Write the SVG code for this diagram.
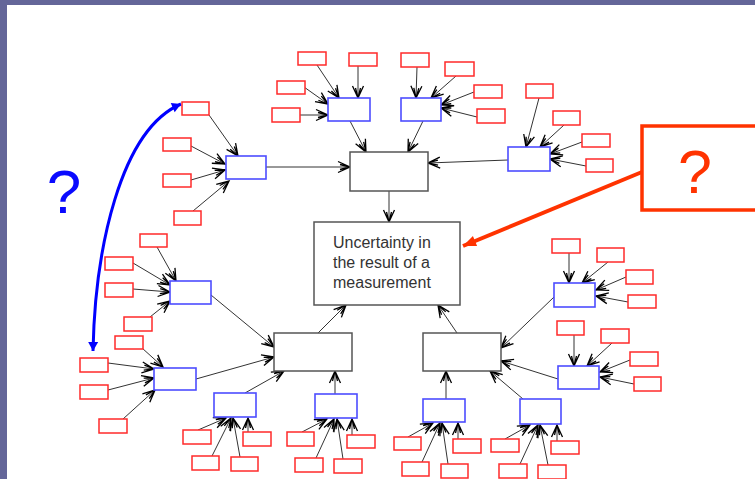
<svg xmlns="http://www.w3.org/2000/svg" width="755" height="479" viewBox="0 0 755 479">
<style>
.r{fill:#fff;stroke:#ff2a2a;stroke-width:1.5}
.b{fill:#fff;stroke:#4d4dff;stroke-width:1.6}
.g{fill:#fff;stroke:#555;stroke-width:1.5}
.c line{stroke:#333;stroke-width:1;marker-end:url(#a)}
.t{font-family:"Liberation Sans",Arial,sans-serif;font-size:16px;fill:#333}
</style>
<defs>
<marker id="a" viewBox="-14 -7 16 14" markerWidth="16" markerHeight="14" refX="0" refY="0" orient="auto" markerUnits="userSpaceOnUse">
<path d="M-12,-5.5 L0,0 L-12,5.5 M-10,-2.5 L0,0 L-10,2.5" fill="none" stroke="#000" stroke-width="1.3"/>
</marker>
<marker id="bl" viewBox="-10 -6 12 12" markerWidth="12" markerHeight="12" refX="0" refY="0" orient="auto-start-reverse" markerUnits="userSpaceOnUse">
<path d="M-9,-5 L0,0 L-9,5 Z" fill="#0000ff"/>
</marker>
<marker id="or" viewBox="-14 -7 16 14" markerWidth="16" markerHeight="14" refX="0" refY="0" orient="auto" markerUnits="userSpaceOnUse">
<path d="M-13,-5.5 L0,0 L-13,5.5 Z" fill="#ff3300"/>
</marker>
</defs>
<rect x="0" y="0" width="755" height="479" fill="#fff"/>
<rect x="0" y="0" width="755" height="5" fill="#646699"/>
<rect x="0" y="0" width="7" height="479" fill="#646699"/>

<g id="connectors" class="c">
<!-- A -->
<line x1="209" y1="115" x2="238" y2="156"/>
<line x1="191" y1="146" x2="225" y2="164"/>
<line x1="191" y1="180" x2="225" y2="170"/>
<line x1="193" y1="211" x2="229" y2="181"/>
<line x1="266" y1="167" x2="350" y2="167"/>
<!-- B -->
<line x1="317" y1="65" x2="339" y2="98"/>
<line x1="358" y1="66" x2="358" y2="98"/>
<line x1="304" y1="87" x2="328" y2="104"/>
<line x1="300" y1="115" x2="328" y2="115"/>
<line x1="350" y1="121" x2="366" y2="152"/>
<!-- C -->
<line x1="417" y1="67" x2="416" y2="98"/>
<line x1="456" y1="76" x2="431" y2="98"/>
<line x1="474" y1="92" x2="441" y2="105"/>
<line x1="477" y1="117" x2="441" y2="108"/>
<line x1="423" y1="121" x2="408" y2="152"/>
<!-- D -->
<line x1="539" y1="98" x2="526" y2="147"/>
<line x1="564" y1="125" x2="540" y2="147"/>
<line x1="582" y1="142" x2="550" y2="154"/>
<line x1="586" y1="166" x2="550" y2="159"/>
<line x1="508" y1="160" x2="428" y2="163"/>
<!-- top grey to uncertainty -->
<line x1="389" y1="191" x2="389" y2="222"/>
<!-- E -->
<line x1="157" y1="247" x2="176" y2="281"/>
<line x1="133" y1="263" x2="170" y2="285"/>
<line x1="133" y1="289" x2="170" y2="292"/>
<line x1="150" y1="317" x2="170" y2="301"/>
<line x1="211" y1="295" x2="274" y2="347"/>
<!-- F -->
<line x1="142" y1="348" x2="163" y2="367"/>
<line x1="108" y1="363" x2="154" y2="369"/>
<line x1="108" y1="390" x2="154" y2="378"/>
<line x1="123" y1="419" x2="155" y2="390"/>
<line x1="196" y1="379" x2="274" y2="357"/>
<!-- G -->
<line x1="245" y1="393" x2="284" y2="371"/>
<line x1="198" y1="430" x2="226" y2="418"/>
<line x1="212" y1="456" x2="231" y2="418"/>
<line x1="240" y1="457" x2="233" y2="418"/>
<line x1="248" y1="432" x2="248" y2="418"/>
<!-- H -->
<line x1="335" y1="394" x2="335" y2="371"/>
<line x1="302" y1="432" x2="327" y2="419"/>
<line x1="316" y1="458" x2="334" y2="419"/>
<line x1="343" y1="459" x2="337" y2="419"/>
<line x1="352" y1="435" x2="352" y2="419"/>
<!-- I -->
<line x1="446" y1="399" x2="446" y2="371"/>
<line x1="408" y1="437" x2="433" y2="423"/>
<line x1="422" y1="462" x2="440" y2="423"/>
<line x1="448" y1="464" x2="442" y2="423"/>
<line x1="458" y1="439" x2="458" y2="423"/>
<!-- J -->
<line x1="523" y1="399" x2="490" y2="371"/>
<line x1="505" y1="439" x2="530" y2="425"/>
<line x1="520" y1="464" x2="538" y2="425"/>
<line x1="548" y1="465" x2="540" y2="425"/>
<line x1="557" y1="441" x2="557" y2="425"/>
<!-- K -->
<line x1="554" y1="297" x2="501" y2="348"/>
<line x1="569" y1="253" x2="569" y2="283"/>
<line x1="608" y1="262" x2="582" y2="283"/>
<line x1="626" y1="277" x2="596" y2="290"/>
<line x1="628" y1="302" x2="596" y2="296"/>
<!-- L -->
<line x1="558" y1="379" x2="501" y2="361"/>
<line x1="574" y1="335" x2="574" y2="366"/>
<line x1="612" y1="343" x2="587" y2="366"/>
<line x1="630" y1="360" x2="600" y2="372"/>
<line x1="634" y1="384" x2="600" y2="377"/>
<!-- lower greys to uncertainty -->
<line x1="318" y1="333" x2="346" y2="305"/>
<line x1="457" y1="333" x2="438" y2="305"/>
</g>

<g id="blue-curve">
<path d="M93,351 C95,250 120,130 181,104" fill="none" stroke="#0000ff" stroke-width="3" marker-start="url(#bl)" marker-end="url(#bl)"/>
</g>
<g id="callout-line">
<line x1="642" y1="172" x2="463" y2="246" stroke="#ff3300" stroke-width="4" marker-end="url(#or)"/>
</g>

<g id="uncertainty">
<rect x="314" y="222" width="146" height="83" class="g"/>
<text class="t" x="333" y="248">Uncertainty in</text>
<text class="t" x="333" y="268">the result of a</text>
<text class="t" x="333" y="288">measurement</text>
</g>
<g id="grey-top"><rect x="350" y="152" width="78" height="39" class="g"/></g>
<g id="grey-ll"><rect x="274" y="333" width="78" height="38" class="g"/></g>
<g id="grey-lr"><rect x="423" y="333" width="78" height="38" class="g"/></g>

<g id="blue-A"><rect x="226" y="156" width="40" height="23" class="b"/></g>
<g id="blue-B"><rect x="328" y="98" width="42" height="23" class="b"/></g>
<g id="blue-C"><rect x="401" y="98" width="40" height="23" class="b"/></g>
<g id="blue-D"><rect x="508" y="147" width="42" height="24" class="b"/></g>
<g id="blue-E"><rect x="170" y="281" width="41" height="23" class="b"/></g>
<g id="blue-F"><rect x="154" y="368" width="42" height="22" class="b"/></g>
<g id="blue-G"><rect x="214" y="393" width="42" height="24" class="b"/></g>
<g id="blue-H"><rect x="315" y="394" width="42" height="24" class="b"/></g>
<g id="blue-I"><rect x="423" y="399" width="42" height="23" class="b"/></g>
<g id="blue-J"><rect x="520" y="399" width="41" height="25" class="b"/></g>
<g id="blue-K"><rect x="554" y="283" width="41" height="24" class="b"/></g>
<g id="blue-L"><rect x="558" y="366" width="41" height="23" class="b"/></g>

<g id="red-boxes">
<g id="rA1"><rect x="182" y="102" width="27" height="13" class="r"/></g>
<g id="rA2"><rect x="163" y="138" width="28" height="13" class="r"/></g>
<g id="rA3"><rect x="163" y="174" width="28" height="13" class="r"/></g>
<g id="rA4"><rect x="174" y="211" width="27" height="14" class="r"/></g>
<g id="rB1"><rect x="298" y="52" width="28" height="13" class="r"/></g>
<g id="rB2"><rect x="349" y="53" width="28" height="13" class="r"/></g>
<g id="rB3"><rect x="277" y="81" width="28" height="13" class="r"/></g>
<g id="rB4"><rect x="272" y="108" width="28" height="14" class="r"/></g>
<g id="rC1"><rect x="401" y="53" width="28" height="14" class="r"/></g>
<g id="rC2"><rect x="445" y="62" width="29" height="14" class="r"/></g>
<g id="rC3"><rect x="474" y="85" width="28" height="13" class="r"/></g>
<g id="rC4"><rect x="477" y="109" width="28" height="14" class="r"/></g>
<g id="rD1"><rect x="526" y="84" width="27" height="14" class="r"/></g>
<g id="rD2"><rect x="553" y="111" width="27" height="14" class="r"/></g>
<g id="rD3"><rect x="582" y="134" width="28" height="13" class="r"/></g>
<g id="rD4"><rect x="586" y="159" width="27" height="13" class="r"/></g>
<g id="rE1"><rect x="140" y="234" width="27" height="13" class="r"/></g>
<g id="rE2"><rect x="105" y="257" width="28" height="13" class="r"/></g>
<g id="rE3"><rect x="105" y="283" width="28" height="14" class="r"/></g>
<g id="rE4"><rect x="124" y="317" width="28" height="14" class="r"/></g>
<g id="rF1"><rect x="115" y="336" width="28" height="13" class="r"/></g>
<g id="rF2"><rect x="80" y="358" width="28" height="14" class="r"/></g>
<g id="rF3"><rect x="80" y="385" width="28" height="14" class="r"/></g>
<g id="rF4"><rect x="99" y="419" width="28" height="14" class="r"/></g>
<g id="rG1"><rect x="183" y="430" width="28" height="14" class="r"/></g>
<g id="rG2"><rect x="243" y="432" width="28" height="14" class="r"/></g>
<g id="rG3"><rect x="192" y="456" width="27" height="14" class="r"/></g>
<g id="rG4"><rect x="231" y="457" width="27" height="14" class="r"/></g>
<g id="rH1"><rect x="287" y="432" width="27" height="14" class="r"/></g>
<g id="rH2"><rect x="347" y="435" width="28" height="13" class="r"/></g>
<g id="rH3"><rect x="295" y="458" width="28" height="14" class="r"/></g>
<g id="rH4"><rect x="334" y="459" width="28" height="14" class="r"/></g>
<g id="rI1"><rect x="394" y="437" width="27" height="13" class="r"/></g>
<g id="rI2"><rect x="453" y="439" width="28" height="14" class="r"/></g>
<g id="rI3"><rect x="402" y="462" width="27" height="14" class="r"/></g>
<g id="rI4"><rect x="441" y="464" width="27" height="14" class="r"/></g>
<g id="rJ1"><rect x="491" y="439" width="28" height="13" class="r"/></g>
<g id="rJ2"><rect x="551" y="441" width="28" height="13" class="r"/></g>
<g id="rJ3"><rect x="499" y="464" width="28" height="14" class="r"/></g>
<g id="rJ4"><rect x="538" y="465" width="28" height="14" class="r"/></g>
<g id="rK1"><rect x="552" y="239" width="28" height="14" class="r"/></g>
<g id="rK2"><rect x="597" y="248" width="27" height="14" class="r"/></g>
<g id="rK3"><rect x="626" y="270" width="27" height="14" class="r"/></g>
<g id="rK4"><rect x="628" y="295" width="28" height="13" class="r"/></g>
<g id="rL1"><rect x="557" y="321" width="27" height="14" class="r"/></g>
<g id="rL2"><rect x="601" y="329" width="28" height="14" class="r"/></g>
<g id="rL3"><rect x="630" y="352" width="28" height="14" class="r"/></g>
<g id="rL4"><rect x="634" y="377" width="27" height="14" class="r"/></g>
</g>

<g id="blue-question">
<text x="64" y="213" text-anchor="middle" font-family="Liberation Sans, Arial, sans-serif" font-size="62" fill="#0a0aff">?</text>
</g>
<g id="red-question">
<rect x="642" y="126" width="130" height="84" fill="#fff" stroke="#ff3300" stroke-width="3.5"/>
<text x="695" y="193" text-anchor="middle" font-family="Liberation Sans, Arial, sans-serif" font-size="61" fill="#ff3300">?</text>
</g>
</svg>
